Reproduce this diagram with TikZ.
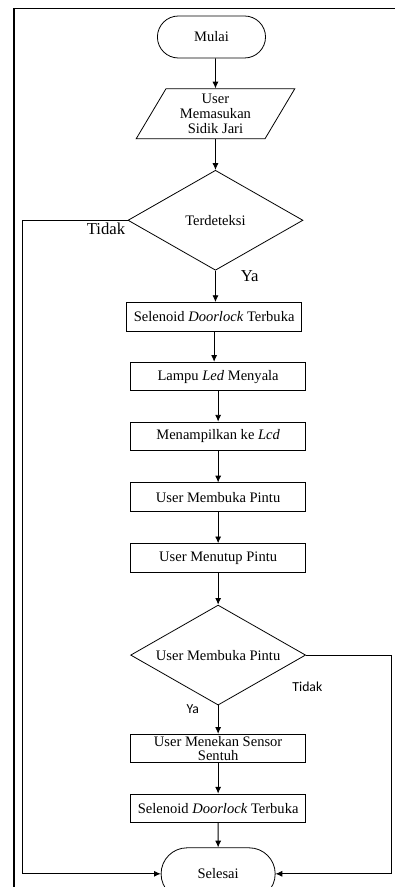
\documentclass[tikz,border=0pt]{standalone}
\usepackage{fontspec}
\setmainfont{Liberation Serif}
\newfontfamily\ketsans{Carlito}
\usetikzlibrary{arrows.meta,shapes.geometric,shapes.misc,positioning}

\begin{document}
\begin{tikzpicture}[->, >={Latex[length=5pt,width=4.5pt]}, line width=0.6pt,
                    node distance=23pt, font=\fontsize{10.9}{11}\selectfont]
  \tikzstyle{proses}=[rectangle, draw=black, minimum width=131.25pt, minimum height=21.5pt, inner sep=1pt, align=center]
  \tikzstyle{terminal}=[rounded rectangle, draw=black, minimum width=87.75pt, minimum height=31.5pt]
  \tikzstyle{keputusan}=[diamond, draw=black, aspect=1.75, minimum width=131.25pt, minimum height=75pt, inner sep=0pt]
  \tikzstyle{masukan}=[trapezium, trapezium left angle=62, trapezium right angle=118, trapezium stretches=true,
                       draw=black, minimum width=120pt, minimum height=37.5pt, inner sep=1pt, align=center]
  \tikzstyle{ketserif}=[inner sep=0pt, font=\fontsize{12.5}{12.5}\selectfont]
  \tikzstyle{ketsans}=[inner sep=0pt, font=\ketsans\fontsize{10.3}{10.3}\selectfont]

  \useasboundingbox (0,0) rectangle (296.25pt,-665.25pt);
  \draw[-, line width=1.4pt] (10.5pt,-665.25pt) -- (10.5pt,-6.4pt) -- (296.25pt,-6.4pt);

  \node[terminal]  (mulai)   at (158.6pt,-27.75pt)              {Mulai};
  \node[masukan]   (input)   [below=22.5pt of mulai, xshift=3pt] {User\\Memasukan\\Sidik Jari};
  \node[keputusan] (deteksi) [below=23pt of input]               {Terdeteksi};
  \node[proses]    (pintu1)  [below=23.5pt of deteksi, xshift=-1pt] {Selenoid \textit{Doorlock} Terbuka};
  \node[proses]    (lampu)   [below=22.75pt of pintu1, xshift=3pt]   {Lampu \textit{Led} Menyala};
  \node[proses]    (lcd)     [below=22.75pt of lampu]            {Menampilkan ke \textit{Lcd}};
  \node[proses]    (buka)    [below=23.5pt of lcd]               {User Membuka Pintu};
  \node[proses]    (tutup)   [below=23.5pt of buka]              {User Menutup Pintu};
  \node[keputusan] (cek)     [below=24pt of tutup]               {User Membuka Pintu};
  \node[proses]    (sensor)  [below=21.25pt of cek, inner ysep=0pt,
                              font=\fontsize{10.9}{10.5}\selectfont] {User Menekan Sensor\\Sentuh};
  \node[proses]    (pintu2)  [below=22.75pt of sensor]           {Selenoid \textit{Doorlock} Terbuka};
  \node[terminal]  (selesai) [below=18.25pt of pintu2, minimum width=92.25pt, minimum height=39pt] {Selesai};

  \coordinate (kiri)  at (16.5pt,0);
  \coordinate (kanan) at (293.75pt,0);

  \node[ketserif, anchor=north east] (tidak1) at ([shift={(-1.5pt,-1.5pt)}]deteksi.west)  {Tidak};
  \node[ketserif, anchor=north west] (ya1)    at ([shift={(18.75pt,0.5pt)}]deteksi.south) {Ya};
  \node[ketsans, anchor=north west]  (tidak2) at ([shift={(-10.5pt,-19.5pt)}]cek.east)   {Tidak};
  \node[ketsans, anchor=north west]  (ya2)    at ([shift={(-24pt,1pt)}]cek.south)         {Ya};

  \path (mulai.south -| input) edge (input)
        (input)                edge (deteksi)
        (deteksi.south)        edge (deteksi.south |- pintu1.north)
        (pintu1.south)         edge (pintu1.south |- lampu.north)
        (lampu)                edge (lcd)
        (lcd)                  edge (buka)
        (buka)                 edge (tutup)
        (tutup)                edge (cek)
        (cek)                  edge (sensor)
        (sensor)               edge (pintu2)
        (pintu2)               edge (selesai);

  \draw (deteksi.west) -- (deteksi.west -| kiri) |- (selesai.west);
  \draw (cek.east) -- (cek.east -| kanan) |- (selesai.east);
\end{tikzpicture}
\end{document}
